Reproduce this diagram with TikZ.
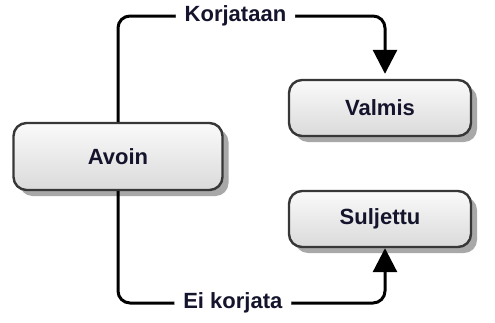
\documentclass[tikz,border=0pt]{standalone}
\usepackage{fontspec}
\setmainfont{Liberation Sans}
\usetikzlibrary{arrows.meta,shadows,calc}
\definecolor{txt}{RGB}{20,20,45}
\definecolor{boxline}{RGB}{55,55,55}
\definecolor{shad}{RGB}{168,168,168}
\definecolor{fillTop}{RGB}{250,250,250}
\definecolor{fillBot}{RGB}{218,218,218}
\tikzset{
  statebox/.style={draw=boxline, line width=2.4pt, rounded corners=13pt,
    top color=fillTop, bottom color=fillBot,
    minimum width=182pt, minimum height=56pt, inner sep=0pt,
    font=\fontsize{22pt}{25pt}\selectfont\bfseries, text=txt,
    drop shadow={shadow xshift=6pt, shadow yshift=-6pt, fill=shad, opacity=1}},
  conn/.style={draw=black, line width=3pt, rounded corners=12pt,
    -{Triangle[length=24pt,width=24pt]}},
  lab/.style={fill=white, inner xsep=9pt, inner ysep=2pt,
    font=\fontsize{22pt}{25pt}\selectfont\bfseries, text=txt}
}
\begin{document}
\begin{tikzpicture}[x=1pt,y=-1pt]
\useasboundingbox (0,0) rectangle (495,322);
\node[statebox, minimum width=209pt, minimum height=67pt] (avoin) at (118,156.5) {Avoin};
\node[statebox] (valmis) at (380,108) {Valmis};
\node[statebox] (suljettu) at (380,219) {Suljettu};
\coordinate (c1) at (118,16);
\coordinate (c2) at (385,16);
\coordinate (d1) at (118,303);
\coordinate (d2) at (385,303);
\draw[conn, shorten >=5pt] (avoin.north) -- (c1) -- node[lab, pos=0.44] (k) {Korjataan} (c2) -- (c2 |- valmis.north);
\draw[conn] (avoin.south) -- (d1) -- node[lab, pos=0.43] (e) {Ei korjata} (d2) -- (c2 |- suljettu.south);
\end{tikzpicture}
\end{document}
